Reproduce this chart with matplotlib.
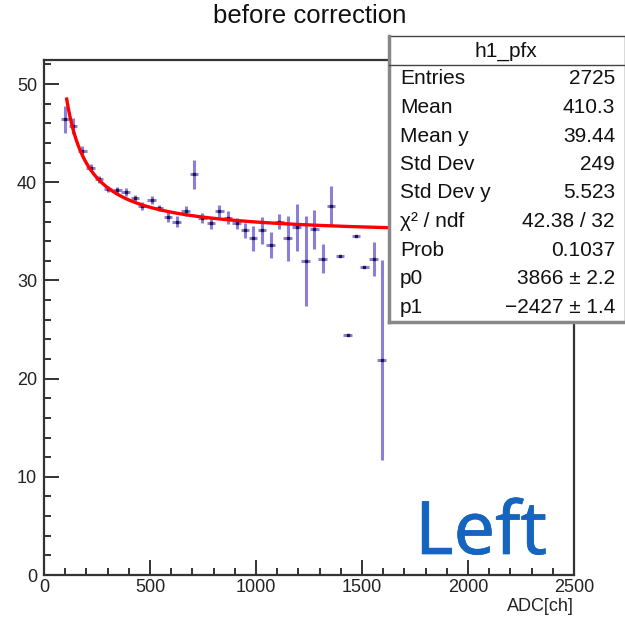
import numpy as np
import matplotlib
matplotlib.use("Agg")
import matplotlib.pyplot as plt
import matplotlib.patheffects as pe
from matplotlib.patches import Rectangle
from matplotlib.ticker import MultipleLocator

plt.rcParams['font.family'] = ['Liberation Sans', 'DejaVu Sans']

# profile points (bin centre in ADC, mean, error on mean)
adc = [99, 138, 181, 220, 259, 303, 346, 385, 429, 464, 508, 542, 586, 626, 668,
       708, 747, 788, 827, 867, 909, 948, 987, 1029, 1069, 1110, 1149, 1192, 1234,
       1275, 1314, 1353, 1396, 1432, 1472, 1511, 1555, 1593]
mean_y = [46.4, 45.7, 43.2, 41.5, 40.3, 39.3, 39.2, 39.0, 38.4, 37.6, 38.2, 37.4,
          36.5, 36.0, 37.1, 40.8, 36.4, 35.8, 37.1, 36.4, 35.8, 35.1, 34.3, 35.1,
          33.6, 36.0, 34.3, 35.4, 32.0, 35.2, 32.2, 37.6, 32.5, 24.4, 34.5, 31.4,
          32.2, 21.9]
err_y = [1.36, 0.8, 0.5, 0.4, 0.35, 0.3, 0.3, 0.4, 0.35, 0.4, 0.4, 0.3, 0.5, 0.6,
         0.5, 1.48, 0.5, 0.6, 0.63, 0.63, 0.6, 0.8, 1.27, 1.36, 1.32, 0.75, 2.3,
         2.38, 4.6, 2.0, 1.48, 1.98, 0.0, 0.0, 0.0, 0.0, 1.75, 10.2]
half_bin = 20

# fit curve: a/x + b
fit_a = 1500
fit_b = 34.45
fit_lo, fit_hi = 107, 1700

stats_names = ['Entries', 'Mean', 'Mean y', 'Std Dev', 'Std Dev y',
               'χ² / ndf', 'Prob', 'p0', 'p1']
stats_vals = ['2725', '410.3', '39.44', '249', '5.523', '42.38 / 32',
              '0.1037', '3866 ± 2.2', '−2427 ± 1.4']

fig = plt.figure(figsize=(6.25, 6.25), dpi=100)
ax = fig.add_axes([0.0704, 0.08, 0.848, 0.824])

ax.errorbar(adc, mean_y, yerr=err_y, xerr=half_bin, fmt='none',
            ecolor='#8a80dc', elinewidth=2.2, capsize=0, zorder=2)
ax.plot(adc, mean_y, 's', ms=2, color='#1c1650', zorder=3)

xf = np.linspace(fit_lo, fit_hi, 400)
ax.plot(xf, fit_a / xf + fit_b, color='#ff0000', lw=2.4, zorder=4)

ax.set_xlim(0, 2500)
ax.set_ylim(0, 52.45)
ax.xaxis.set_major_locator(MultipleLocator(500))
ax.xaxis.set_minor_locator(MultipleLocator(100))
ax.yaxis.set_major_locator(MultipleLocator(10))
ax.yaxis.set_minor_locator(MultipleLocator(2))
ax.tick_params(which='both', direction='in', top=False, right=False,
               colors='#333333', width=1.4, labelsize=13, labelcolor='#222222')
ax.tick_params(which='major', length=10.5)
ax.tick_params(which='minor', length=5)
ax.tick_params(axis='x', pad=3)
ax.tick_params(axis='y', pad=5)
for s in ax.spines.values():
    s.set_linewidth(1.6)
    s.set_color('#333333')

fig.text(0.918, 0.022, 'ADC[ch]', ha='right', va='baseline', fontsize=13,
         color='#222222')
fig.text(0.495, 0.963, 'before correction', ha='center', va='baseline',
         fontsize=18.5, color='#111111')

# big label, regular face thickened a little
fig.text(0.664, 0.1136, 'Left', ha='left', va='baseline', fontsize=53,
         color='#1565c0', family=['Noto Sans', 'DejaVu Sans'],
         path_effects=[pe.withStroke(linewidth=0.5, foreground='#1565c0')])

# stats box
bx0, by0, bx1, by1 = 389 / 625, 1 - 322 / 625, 1.0, 1 - 36 / 625
fig.patches.append(Rectangle((bx0, by0), bx1 - bx0, by1 - by0,
                             transform=fig.transFigure, facecolor='white',
                             edgecolor='#444444', lw=1.0, zorder=5))
fig.add_artist(plt.Line2D([bx0, bx0], [by0, by1], transform=fig.transFigure,
                          color='#888888', lw=2.5, zorder=6))
fig.add_artist(plt.Line2D([bx0, bx1], [by0, by0], transform=fig.transFigure,
                          color='#888888', lw=2.5, zorder=6))
fig.add_artist(plt.Line2D([bx0, bx1], [1 - 65 / 625, 1 - 65 / 625],
                          transform=fig.transFigure, color='#444444', lw=1.0,
                          zorder=6))
fig.text(506 / 625, 1 - 51 / 625, 'h1_pfx', ha='center', va='center',
         fontsize=15, color='#111111', zorder=7)
for i, (n, v) in enumerate(zip(stats_names, stats_vals)):
    yy = 1 - (79 + 28.5 * i) / 625
    fig.text(400 / 625, yy, n, ha='left', va='center', fontsize=15,
             color='#111111', zorder=7)
    fig.text(615 / 625, yy, v, ha='right', va='center', fontsize=15,
             color='#111111', zorder=7)

fig.savefig('out.png', dpi=100)
